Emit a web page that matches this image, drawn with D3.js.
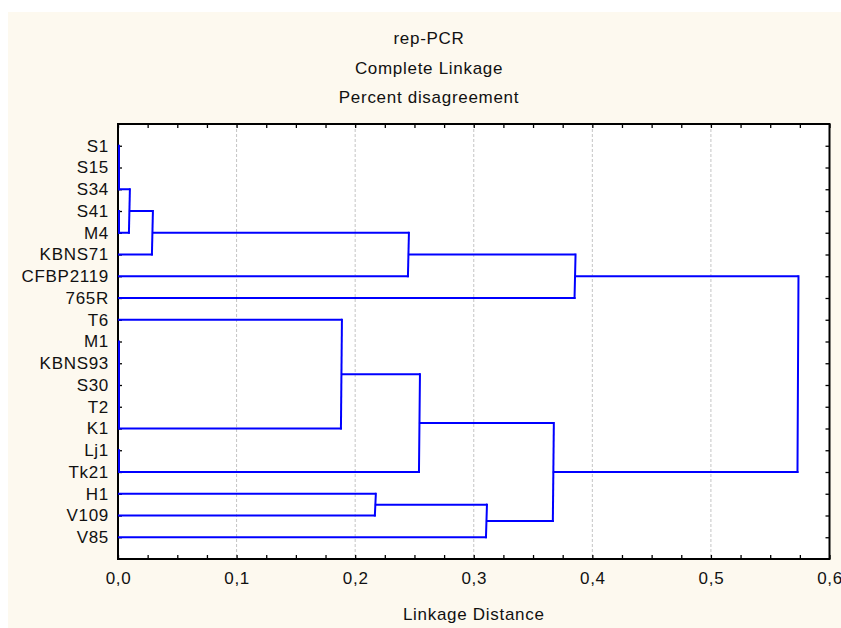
<!DOCTYPE html>
<html>
<head>
<meta charset="utf-8">
<script src="https://cdn.jsdelivr.net/npm/d3@7"></script>
<style>
  body { margin: 0; background: #fff; }
  text { font-family: "Liberation Sans", Arial, sans-serif; fill: #111; }
</style>
</head>
<body>
<script>
width = 841;
height = 628;

// leaves, top to bottom
leaves = ["S1", "S15", "S34", "S41", "M4", "KBNS71", "CFBP2119", "765R", "T6", "M1",
          "KBNS93", "S30", "T2", "K1", "Lj1", "Tk21", "H1", "V109", "V85"];

// joins: [child a, child b, linkage distance]; ids >= 19 point at earlier joins
joins = [
  [0, 1, 0],          // 19
  [19, 2, 0],         // 20
  [3, 4, 0],          // 21
  [20, 21, 0.0092],   // 22
  [22, 5, 0.0286],    // 23
  [23, 6, 0.2445],    // 24
  [24, 7, 0.385],     // 25
  [9, 10, 0],         // 26
  [26, 11, 0],        // 27
  [27, 12, 0],        // 28
  [28, 13, 0],        // 29
  [8, 29, 0.188],     // 30
  [14, 15, 0],        // 31
  [30, 31, 0.2538],   // 32
  [16, 17, 0.2166],   // 33
  [33, 18, 0.3103],   // 34
  [32, 34, 0.3667],   // 35
  [25, 35, 0.573]     // 36
];

titles = ["rep-PCR", "Complete Linkage", "Percent disagreement"];
xTitle = "Linkage Distance";

plot = {left: 118, right: 829.5, top: 124, bottom: 559};

svg = d3.select("body").append("svg")
  .attr("width", width)
  .attr("height", height);

svg.append("rect")
  .attr("x", 8).attr("y", 12)
  .attr("width", width - 8).attr("height", height - 12)
  .attr("fill", "#fdf9ef");

svg.append("rect")
  .attr("x", plot.left).attr("y", plot.top)
  .attr("width", plot.right - plot.left).attr("height", plot.bottom - plot.top)
  .attr("fill", "#fff");

x = d3.scaleLinear().domain([0, 0.6]).range([plot.left, plot.right]);
y = d3.scaleLinear().domain([0, leaves.length + 1]).range([plot.top, plot.bottom]);

// grid
svg.append("g").selectAll("line")
  .data([0.1, 0.2, 0.3, 0.4, 0.5])
  .join("line")
  .attr("x1", d => x(d)).attr("x2", d => x(d))
  .attr("y1", plot.top).attr("y2", plot.bottom)
  .attr("stroke", "#c4c4c4")
  .attr("stroke-dasharray", "3,2");

// titles
svg.append("g").selectAll("text")
  .data(titles)
  .join("text")
  .attr("x", 429)
  .attr("y", (d, i) => 44 + i * 29.6)
  .attr("text-anchor", "middle")
  .attr("font-size", 17)
  .attr("letter-spacing", 0.7)
  .text(d => d);

svg.append("text")
  .attr("x", (plot.left + plot.right) / 2)
  .attr("y", 620)
  .attr("text-anchor", "middle")
  .attr("font-size", 17)
  .attr("letter-spacing", 0.7)
  .text(xTitle);

// axes, ticks pointing inward
fmt = d => d3.format(".1f")(d).replace(".", ",");
xticks = d3.range(0, 24.5).map(i => i * 0.025);
isMajor = d => Math.abs(d * 10 - Math.round(d * 10)) < 1e-6;

gb = svg.append("g")
  .attr("transform", "translate(0," + plot.bottom + ")")
  .call(d3.axisBottom(x).tickValues(xticks).tickSize(-4).tickPadding(13)
    .tickFormat(d => isMajor(d) ? fmt(d) : ""));
gt = svg.append("g")
  .attr("transform", "translate(0," + plot.top + ")")
  .call(d3.axisTop(x).tickValues(xticks).tickSize(-4).tickFormat(""));

leafTicks = d3.range(1, leaves.length + 1);
gl = svg.append("g")
  .attr("transform", "translate(" + plot.left + ",0)")
  .call(d3.axisLeft(y).tickValues(leafTicks).tickSize(-4).tickPadding(9)
    .tickFormat(d => leaves[d - 1]));
gr = svg.append("g")
  .attr("transform", "translate(" + plot.right + ",0)")
  .call(d3.axisRight(y).tickValues(leafTicks).tickSize(-4).tickFormat(""));

[gb, gt, gl, gr].forEach(g => {
  g.select(".domain").remove();
  g.selectAll(".tick line").attr("stroke", "#000").attr("stroke-width", 1.3);
  g.selectAll("text")
    .attr("font-family", "Liberation Sans, Arial, sans-serif")
    .attr("font-size", 17)
    .attr("letter-spacing", 0.7)
    .attr("fill", "#111");
});

// frame
svg.append("rect")
  .attr("x", plot.left).attr("y", plot.top)
  .attr("width", plot.right - plot.left).attr("height", plot.bottom - plot.top)
  .attr("fill", "none")
  .attr("stroke", "#000")
  .attr("stroke-width", 2);

// dendrogram: a zero join sits at its lower member, others at the midpoint
pos = leaves.map((d, i) => y(i + 1));
hgt = leaves.map(() => 0);
segs = [];
joins.forEach(([a, b, h]) => {
  var ya = pos[a], yb = pos[b];
  segs.push([hgt[a], ya, h, ya]);
  segs.push([hgt[b], yb, h, yb]);
  segs.push([h, ya, h, yb]);
  pos.push(h === 0 ? Math.max(ya, yb) : (ya + yb) / 2);
  hgt.push(h);
});

svg.append("g").selectAll("line")
  .data(segs.filter(s => s[0] !== s[2] || s[1] !== s[3]))
  .join("line")
  .attr("x1", d => x(d[0]) + 1).attr("y1", d => d[1])
  .attr("x2", d => x(d[2]) + (d[2] === 0 ? 1 : 0)).attr("y2", d => d[3])
  .attr("stroke", "#0000ff")
  .attr("stroke-width", 2)
  .attr("stroke-linecap", "square");
</script>
</body>
</html>
